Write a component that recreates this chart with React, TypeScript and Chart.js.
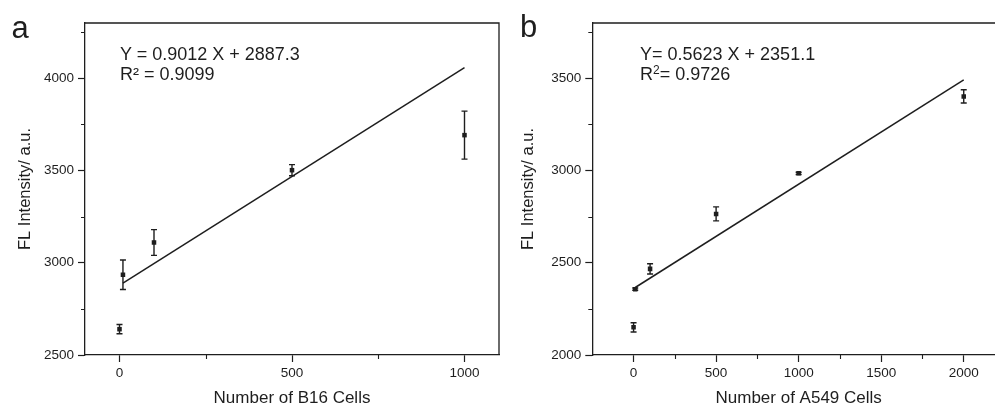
import React, { useEffect, useRef } from 'react';
import { Chart, registerables } from 'chart.js';

Chart.register(...registerables);

const FONT = "'Liberation Sans', Arial, Helvetica, sans-serif";
const INK = '#1e1e1e';

// ---------- Panel a: B16 cells ----------
const b16Cells = [0, 10, 100, 500, 1000];
const b16Intensity = [2640, 2935, 3110, 3502, 3692];
const b16Error = [25, 80, 70, 30, 130];
const b16FitX = [10, 1000];
const b16FitY = [2890, 4058];
const b16XMajor = [0, 500, 1000];
const b16XMinor = [250, 750];
const b16YMajor = [2500, 3000, 3500, 4000];
const b16YMinor = [2750, 3250, 3750, 4250];

// ---------- Panel b: A549 cells ----------
const a549Cells = [0, 10, 100, 500, 1000, 2000];
const a549Intensity = [2150, 2357, 2467, 2765, 2985, 3402];
const a549Error = [25, 6, 28, 38, 6, 36];
const a549FitX = [10, 2000];
const a549FitY = [2366, 3492];
const a549XMajor = [0, 500, 1000, 1500, 2000];
const a549XMinor = [250, 750, 1250, 1750];
const a549YMajor = [2000, 2500, 3000, 3500];
const a549YMinor = [2250, 2750, 3250, 3750];

type Panel = {
  xs: number[];
  ys: number[];
  err: number[];
  fitX: number[];
  fitY: number[];
  xMin: number;
  xMax: number;
  yMin: number;
  yMax: number;
  xMajor: number[];
  xMinor: number[];
  yMajor: number[];
  yMinor: number[];
  xTitle: string;
  yTitle: string;
  padLeft: number;
  padRight: number;
  yAxisWidth: number;
};

function makeConfig(p: Panel): any {
  const decor = {
    id: 'decor',
    afterDatasetsDraw(chart: any) {
      const ctx = chart.ctx;
      const xs = chart.scales.x;
      const ys = chart.scales.y;
      ctx.save();
      ctx.strokeStyle = INK;
      ctx.lineWidth = 1.4;
      p.xs.forEach((xv, i) => {
        const px = xs.getPixelForValue(xv);
        const top = ys.getPixelForValue(p.ys[i] + p.err[i]);
        const bot = ys.getPixelForValue(p.ys[i] - p.err[i]);
        ctx.beginPath();
        ctx.moveTo(px, top);
        ctx.lineTo(px, bot);
        ctx.moveTo(px - 3, top);
        ctx.lineTo(px + 3, top);
        ctx.moveTo(px - 3, bot);
        ctx.lineTo(px + 3, bot);
        ctx.stroke();
      });
      ctx.restore();
    },
    afterDraw(chart: any) {
      const ctx = chart.ctx;
      const a = chart.chartArea;
      const xs = chart.scales.x;
      const ys = chart.scales.y;
      ctx.save();
      ctx.strokeStyle = INK;
      ctx.lineWidth = 1.3;
      ctx.beginPath();
      ctx.moveTo(a.left, a.top);
      ctx.lineTo(a.right, a.top);
      ctx.lineTo(a.right, a.bottom);
      ctx.stroke();
      ctx.lineWidth = 1.1;
      ctx.beginPath();
      p.xMinor.forEach((v) => {
        const px = Math.round(xs.getPixelForValue(v)) + 0.5;
        ctx.moveTo(px, a.bottom);
        ctx.lineTo(px, a.bottom + 4);
      });
      p.yMinor.forEach((v) => {
        const py = Math.round(ys.getPixelForValue(v)) + 0.5;
        ctx.moveTo(a.left, py);
        ctx.lineTo(a.left - 4, py);
      });
      ctx.stroke();
      ctx.restore();
    },
  };

  return {
    type: 'scatter',
    data: {
      datasets: [
        {
          label: 'data',
          data: p.xs.map((x, i) => ({ x, y: p.ys[i] })),
          pointStyle: 'rect',
          pointRadius: 3.2,
          backgroundColor: INK,
          borderWidth: 0,
          showLine: false,
        },
        {
          label: 'fit',
          data: p.fitX.map((x, i) => ({ x, y: p.fitY[i] })),
          showLine: true,
          borderColor: INK,
          borderWidth: 1.5,
          pointRadius: 0,
          fill: false,
        },
      ],
    },
    options: {
      responsive: false,
      animation: false,
      devicePixelRatio: 1,
      layout: { padding: { left: p.padLeft, right: p.padRight, top: 23, bottom: 0 } },
      plugins: { legend: { display: false }, tooltip: { enabled: false } },
      scales: {
        x: {
          type: 'linear',
          min: p.xMin,
          max: p.xMax,
          afterBuildTicks: (s: any) => {
            s.ticks = p.xMajor.map((v) => ({ value: v }));
          },
          afterFit: (s: any) => {
            s.height = 55;
          },
          ticks: {
            autoSkip: false,
            maxRotation: 0,
            padding: 3,
            color: INK,
            font: { family: FONT, size: 13.5 },
            callback: (v: any) => String(v),
          },
          grid: {
            display: true,
            drawOnChartArea: false,
            drawTicks: true,
            tickLength: 7,
            tickColor: INK,
            tickWidth: 1.2,
          },
          border: { display: true, color: INK, width: 1.3 },
          title: {
            display: true,
            text: p.xTitle,
            color: INK,
            font: { family: FONT, size: 17 },
            padding: { top: 0, bottom: 1.5 },
          },
        },
        y: {
          type: 'linear',
          min: p.yMin,
          max: p.yMax,
          afterBuildTicks: (s: any) => {
            s.ticks = p.yMajor.map((v) => ({ value: v }));
          },
          afterFit: (s: any) => {
            s.width = p.yAxisWidth;
          },
          ticks: {
            autoSkip: false,
            padding: 4,
            color: INK,
            font: { family: FONT, size: 13.5 },
            callback: (v: any) => String(v),
          },
          grid: {
            display: true,
            drawOnChartArea: false,
            drawTicks: true,
            tickLength: 7,
            tickColor: INK,
            tickWidth: 1.2,
          },
          border: { display: true, color: INK, width: 1.3 },
          title: {
            display: true,
            text: p.yTitle,
            color: INK,
            font: { family: FONT, size: 16.5 },
            padding: { top: 4, bottom: 4 },
          },
        },
      },
    },
    plugins: [decor],
  };
}

const panelA: Panel = {
  xs: b16Cells,
  ys: b16Intensity,
  err: b16Error,
  fitX: b16FitX,
  fitY: b16FitY,
  xMin: -100,
  xMax: 1100,
  yMin: 2500,
  yMax: 4300,
  xMajor: b16XMajor,
  xMinor: b16XMinor,
  yMajor: b16YMajor,
  yMinor: b16YMinor,
  xTitle: 'Number of B16 Cells',
  yTitle: 'FL Intensity/ a.u.',
  padLeft: 12,
  padRight: 6,
  yAxisWidth: 73,
};

const panelB: Panel = {
  xs: a549Cells,
  ys: a549Intensity,
  err: a549Error,
  fitX: a549FitX,
  fitY: a549FitY,
  xMin: -250,
  xMax: 2250,
  yMin: 2000,
  yMax: 3800,
  xMajor: a549XMajor,
  xMinor: a549XMinor,
  yMajor: a549YMajor,
  yMinor: a549YMinor,
  xTitle: 'Number of A549 Cells',
  yTitle: 'FL Intensity/ a.u.',
  padLeft: 20,
  padRight: 10,
  yAxisWidth: 77.3,
};

function PanelChart({ panel, left, width }: { panel: Panel; left: number; width: number }) {
  const ref = useRef<HTMLCanvasElement | null>(null);
  useEffect(() => {
    if (!ref.current) return;
    const chart = new Chart(ref.current, makeConfig(panel));
    return () => chart.destroy();
  }, [panel]);
  return (
    <canvas
      ref={ref}
      width={width}
      height={410}
      style={{ position: 'absolute', left, top: 0, width, height: 410 }}
    />
  );
}

const txt: React.CSSProperties = {
  position: 'absolute',
  fontFamily: FONT,
  color: INK,
  whiteSpace: 'nowrap',
};

export default function App() {
  return (
    <div
      style={{
        position: 'fixed',
        left: 0,
        top: 0,
        width: 995,
        height: 410,
        overflow: 'hidden',
        background: '#fff',
      }}
    >
      <PanelChart panel={panelA} left={0} width={505} />
      <PanelChart panel={panelB} left={495} width={520} />
      <div style={{ ...txt, left: 11.5, top: 11.8, fontSize: 31, lineHeight: '31px' }}>a</div>
      <div style={{ ...txt, left: 520, top: 10.8, fontSize: 31, lineHeight: '31px' }}>b</div>
      <div style={{ ...txt, left: 120, top: 45, fontSize: 18, lineHeight: '19.7px' }}>
        <div>Y = 0.9012 X + 2887.3</div>
        <div>R² = 0.9099</div>
      </div>
      <div style={{ ...txt, left: 640, top: 45, fontSize: 18, lineHeight: '19.7px' }}>
        <div>Y= 0.5623 X + 2351.1</div>
        <div>
          R<span style={{ fontSize: 12, position: 'relative', top: -6, lineHeight: 0 }}>2</span>= 0.9726
        </div>
      </div>
    </div>
  );
}
